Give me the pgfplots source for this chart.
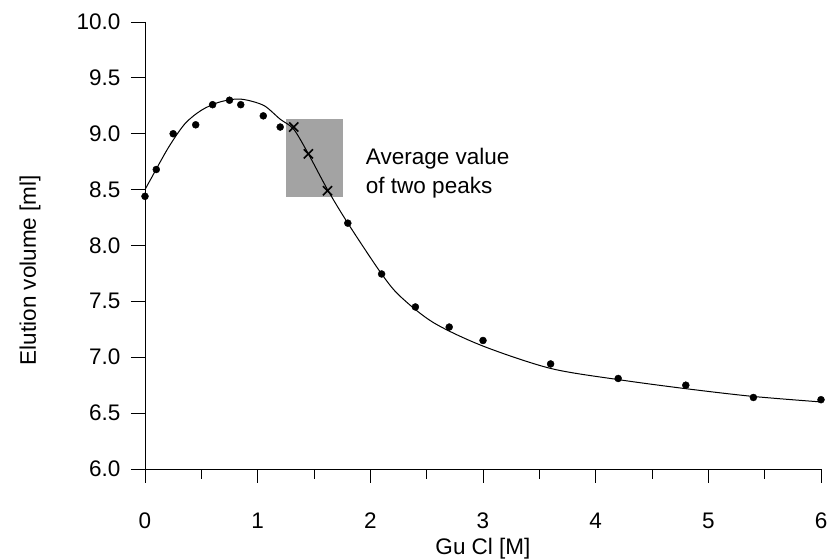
\documentclass[border=0pt]{standalone}
\usepackage{fontspec}
\setmainfont{Liberation Sans}
\usepackage{pgfplots}
\pgfplotsset{compat=1.18}

\begin{document}
\begin{tikzpicture}
\begin{axis}[
  name=ax,
  scale only axis, width=676pt, height=447pt,
  xmin=0, xmax=6, ymin=6, ymax=10,
  axis line style={draw=none},
  xtick pos=bottom, ytick pos=left,
  xtick={0,...,6}, minor xtick={0.5,1.5,...,5.5},
  ytick={6,6.5,...,10},
  tick align=outside,
  major tick length=14pt, minor tick length=10pt,
  tick style={black, line width=0.9pt},
  yticklabel style={xshift=-7pt, /pgf/number format/.cd, fixed, fixed zerofill, precision=1},
  xticklabel style={yshift=-26pt},
  /pgf/number format/assume math mode=true,
  ticklabel style={font=\fontsize{22.5}{26}\selectfont},
  label style={font=\fontsize{22.5}{26}\selectfont},
  xlabel={Gu Cl [M]}, ylabel={Elution volume [ml]},
  xlabel style={at={(rel axis cs:0.5,0)}, anchor=center, yshift=-80pt},
  ylabel style={at={(rel axis cs:0,0.445)}, anchor=center, yshift=115pt},
  clip=false,
]
% left and bottom axis lines only
\draw[black, line width=0.9pt] (rel axis cs:0,1) -- (rel axis cs:0,0) -- (rel axis cs:1,0);

% shaded band where the two peaks overlap
\addplot[fill=gray!72, draw=none] coordinates {(1.25,8.43) (1.76,8.43) (1.76,9.13) (1.25,9.13)} -- cycle;

% fitted curve
\addplot[black, line width=1pt, smooth, tension=0.5] coordinates {
  (0,8.50) (0.06,8.61) (0.21,8.88) (0.355,9.09) (0.5,9.21) (0.65,9.28)
  (0.8,9.31) (0.91,9.30) (1.06,9.25) (1.2,9.13) (1.32,9.04) (1.45,8.82)
  (1.62,8.50) (1.80,8.20) (2.09,7.76) (2.26,7.55) (2.56,7.31) (3.0,7.10)
  (3.6,6.90) (4.2,6.80) (4.79,6.72) (5.39,6.65) (6.0,6.60)
};

% measured elution volumes
\addplot[only marks, mark=*, mark size=3.5pt, black] coordinates {
  (0,8.44) (0.1,8.68) (0.25,9.0) (0.45,9.08) (0.6,9.26) (0.75,9.30)
  (0.85,9.26) (1.05,9.16) (1.2,9.06) (1.8,8.20) (2.1,7.745) (2.4,7.45)
  (2.7,7.27) (3.0,7.15) (3.6,6.94) (4.2,6.81) (4.8,6.75) (5.4,6.64) (6.0,6.62)
};

% averaged values of the two peaks
\addplot[only marks, mark=x, mark size=6.5pt, black, line width=1.6pt] coordinates {
  (1.32,9.06) (1.45,8.82) (1.62,8.49)
};

\node[anchor=west, align=left, font=\fontsize{22.5}{29}\selectfont] at (axis cs:1.93,8.65) {Average value\\of two peaks};
\end{axis}
\pgfresetboundingbox
\path ([xshift=-145pt,yshift=-91pt]ax.south west) rectangle ([xshift=8pt,yshift=22pt]ax.north east);
\end{tikzpicture}
\end{document}
